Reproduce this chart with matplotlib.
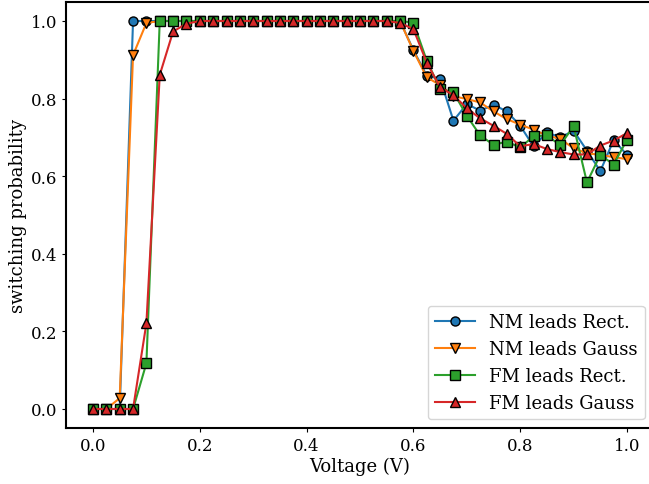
import numpy as np
from matplotlib import pyplot as plt

plt.rcParams['font.family'] = 'DejaVu Serif'

voltage = [i * 0.025 for i in range(41)]

nm_rect = [0, 0, 0, 1.0, 1.0, 1.0, 1.0, 1.0, 1.0, 1.0, 1.0, 1.0, 1.0, 1.0, 1.0,
           1.0, 1.0, 1.0, 1.0, 1.0, 1.0, 1.0, 1.0, 1.0, 0.925,
           0.859, 0.851, 0.743, 0.786, 0.769, 0.784, 0.767, 0.730, 0.677, 0.713,
           0.700, 0.717, 0.666, 0.613, 0.693, 0.655]
nm_gauss = [0, 0, 0.028, 0.912, 0.995, 1.0, 1.0, 1.0, 1.0, 1.0, 1.0, 1.0, 1.0, 1.0, 1.0,
            1.0, 1.0, 1.0, 1.0, 1.0, 1.0, 1.0, 1.0, 1.0, 0.923,
            0.855, 0.835, 0.806, 0.799, 0.790, 0.767, 0.747, 0.733, 0.720, 0.705,
            0.696, 0.672, 0.659, 0.655, 0.649, 0.644]
fm_rect = [0, 0, 0, 0, 0.118, 1.0, 1.0, 1.0, 1.0, 1.0, 1.0, 1.0, 1.0, 1.0, 1.0,
           1.0, 1.0, 1.0, 1.0, 1.0, 1.0, 1.0, 1.0, 1.0, 0.996,
           0.898, 0.825, 0.816, 0.756, 0.705, 0.681, 0.689, 0.674, 0.703, 0.705,
           0.680, 0.729, 0.584, 0.655, 0.630, 0.694]
fm_gauss = [0, 0, 0, 0, 0.221, 0.861, 0.973, 0.993, 1.0, 1.0, 1.0, 1.0, 1.0, 1.0, 1.0,
            1.0, 1.0, 1.0, 1.0, 1.0, 1.0, 1.0, 1.0, 0.995, 0.979,
            0.893, 0.829, 0.809, 0.775, 0.749, 0.730, 0.709, 0.677, 0.683, 0.670,
            0.662, 0.656, 0.656, 0.679, 0.692, 0.711]

labels = ['NM leads Rect.', 'NM leads Gauss', 'FM leads Rect.', 'FM leads Gauss']
markers = ['o', 'v', 's', '^']

fig = plt.figure(figsize=(6.49, 4.85), dpi=100)
ax = fig.add_axes([66.3 / 649, 55.6 / 485, 587.4 / 649, 426.8 / 485])

for ys, lab, m in zip([nm_rect, nm_gauss, fm_rect, fm_gauss], labels, markers):
    ax.plot(voltage, ys, marker=m, markersize=6.5, markeredgecolor='k', label=lab)

ax.set_xlim(-0.05, 1.05)
ax.set_ylim(-0.05, 1.05)
for s in ax.spines.values():
    s.set_linewidth(1.5)
ax.set_xlabel('Voltage (V)', fontsize=13, labelpad=2)
ax.set_ylabel('switching probability', fontsize=13, labelpad=3)
ax.tick_params(labelsize=12, length=3)
ax.legend(loc='lower right', fontsize=13, handlelength=2.2)

fig.savefig('out.png', dpi=100)
